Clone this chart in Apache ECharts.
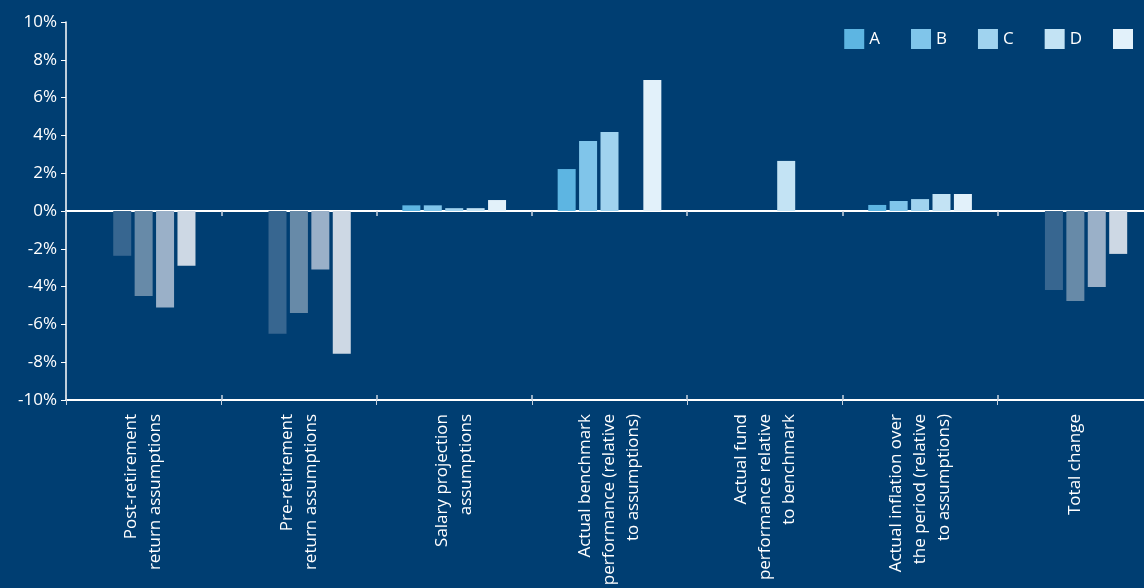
<!DOCTYPE html>
<html>
<head>
<meta charset="utf-8">
<script src="https://cdn.jsdelivr.net/npm/echarts@6/dist/echarts.min.js"></script>
<style>
  html, body { margin: 0; padding: 0; background: #003e72; }
  #chart { width: 1144px; height: 588px; }
</style>
</head>
<body>
<div id="chart"></div>
<script>
  const categories = [
    'Post-retirement\nreturn assumptions',
    'Pre-retirement\nreturn assumptions',
    'Salary projection\nassumptions',
    'Actual benchmark\nperformance (relative\nto assumptions)',
    'Actual fund\nperformance relative\nto benchmark',
    'Actual inflation over\nthe period (relative\nto assumptions)',
    'Total change'
  ]
  const seriesNames = ['A', 'B', 'C', 'D', 'E']
  // values in %
  const valuesA = [0, 0, 0.3, 2.22, 0, 0.32, 0]
  const valuesB = [-2.37, -6.5, 0.3, 3.7, 0, 0.53, -4.18]
  const valuesC = [-4.5, -5.4, 0.15, 4.18, 0, 0.63, -4.76]
  const valuesD = [-5.1, -3.1, 0.15, 0, 2.65, 0.9, -4.02]
  const valuesE = [-2.9, -7.55, 0.58, 6.93, 0, 0.9, -2.27]
  const allValues = [valuesA, valuesB, valuesC, valuesD, valuesE]

  // 正值颜色 / 负值颜色
  const posColors = ['#5db5e2', '#80c5ea', '#a0d3ef', '#c3e3f4', '#e2f1fa']
  const negColors = ['#1a5283', '#376690', '#678aa8', '#9ab0c8', '#cdd8e4']

  const font = '"Open Sans", "Noto Sans", sans-serif'
  const chart = echarts.init(document.getElementById('chart'))

  const catAxisBase = {
    type: 'category',
    data: categories,
    gridIndex: 0
  }

  const options = {
    backgroundColor: '#003e72',
    animation: false,
    legend: {
      data: seriesNames,
      top: 24,
      right: 6,
      itemWidth: 20,
      itemHeight: 20,
      itemGap: 31,
      icon: 'rect',
      formatter: (name) => (name === 'E' ? '' : name),
      textStyle: { color: '#ffffff', fontSize: 17, fontFamily: font }
    },
    // 图表向右超出画面（最后一个类目被裁掉一部分）
    grid: {
      top: 22,
      left: 66,
      width: 1087,
      bottom: 188,
      outerBoundsMode: 'none'
    },
    xAxis: [
      // 底部轴：标签
      Object.assign({}, catAxisBase, {
        position: 'bottom',
        axisLine: { onZero: false, lineStyle: { color: '#c9d3df', width: 1.5 } },
        axisTick: { show: true, length: 5, lineStyle: { color: '#c9d3df' } },
        axisLabel: {
          rotate: 90,
          color: '#ffffff',
          fontSize: 17,
          fontFamily: font,
          lineHeight: 24,
          align: 'right',
          margin: 14
        }
      }),
      // 零线（刻度向下）
      Object.assign({}, catAxisBase, {
        position: 'bottom',
        axisLine: { onZero: true, lineStyle: { color: '#ffffff', width: 2 } },
        axisTick: { show: true, length: 5, lineStyle: { color: '#c9d3df', width: 1.5 } },
        axisLabel: { show: false }
      }),
      // 零线（刻度向上）
      Object.assign({}, catAxisBase, {
        position: 'bottom',
        axisLine: { onZero: true, lineStyle: { color: '#ffffff', width: 2 } },
        axisTick: { show: true, inside: true, length: 5, lineStyle: { color: '#c9d3df', width: 1.5 } },
        axisLabel: { show: false }
      })
    ],
    yAxis: {
      type: 'value',
      min: -10,
      max: 10,
      interval: 2,
      axisLine: { show: true, lineStyle: { color: '#ffffff', width: 1.5 } },
      axisTick: { show: true, length: 5, lineStyle: { color: '#ffffff' } },
      splitLine: { show: false },
      axisLabel: {
        formatter: '{value}%',
        color: '#ffffff',
        fontSize: 17,
        fontFamily: font,
        margin: 9
      }
    },
    series: seriesNames.map((name, i) => ({
      name: name,
      type: 'bar',
      xAxisIndex: 0,
      barWidth: 18,
      barGap: '19%',
      color: posColors[i],
      itemStyle: {
        color: (p) => (p.value < 0 ? negColors[i] : posColors[i])
      },
      data: allValues[i]
    }))
  }

  chart.setOption(options)
</script>
</body>
</html>
